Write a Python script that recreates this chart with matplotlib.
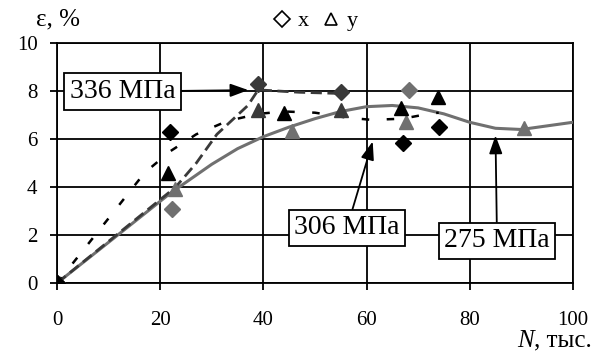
import matplotlib
matplotlib.use("Agg")
import matplotlib.pyplot as plt
from matplotlib.lines import Line2D

plt.rcParams['font.family'] = ['Liberation Serif', 'DejaVu Serif']

# Cycles N (thousand) and strain, %, for each stress level
# 336 MPa
n336_x = [0, 39, 55]
e336_x = [0, 8.3, 7.95]
n336_y = [0, 39, 55]
e336_y = [0, 7.2, 7.2]
n336_line = [0, 23, 27, 31, 37, 39, 47, 55]
e336_line = [0, 4.0, 5.0, 6.2, 7.4, 8.05, 7.95, 7.9]

# 306 MPa
n306_x = [0, 22, 67, 74]
e306_x = [0, 6.3, 5.85, 6.5]
n306_y = [0, 21.6, 44, 66.6, 73.8]
e306_y = [0, 4.6, 7.1, 7.3, 7.75]
n306_line = [0, 5, 10, 17, 22, 27, 33, 39, 44, 50, 56, 61, 67, 72, 74]
e306_line = [0, 1.35, 2.7, 4.6, 5.5, 6.2, 6.75, 7.05, 7.15, 7.1, 6.9, 6.8, 6.85, 7.05, 7.1]

# 275 MPa
n275_x = [0, 22.3, 68.2]
e275_x = [0, 3.1, 8.05]
n275_y = [0, 22.9, 45.5, 67.6, 90.5]
e275_y = [0, 3.9, 6.35, 6.7, 6.45]
n275_line = [0, 10, 22, 30, 35, 40, 45, 50, 55, 60, 65, 70, 75, 80, 85, 90, 95, 100]
e275_line = [0, 1.7, 3.75, 4.95, 5.6, 6.1, 6.5, 6.85, 7.15, 7.35, 7.4, 7.3, 7.05, 6.7, 6.45, 6.4, 6.55, 6.7]

stress_labels = ["336 МПа", "306 МПа", "275 МПа"]
x_ticks = [0, 20, 40, 60, 80, 100]
y_ticks = [0, 2, 4, 6, 8, 10]

c_dark = "#3a3a3a"
c_black = "#000000"
c_gray = "#707070"

fig = plt.figure(figsize=(5.95, 3.53), dpi=100)
ax = fig.add_axes([0.0958, 0.198, 0.867, 0.680])

ax.set_xlim(0, 100)
ax.set_ylim(0, 10)
ax.set_xticks(x_ticks)
ax.set_yticks(y_ticks)
ax.grid(True, color="black", lw=1.3)
ax.set_axisbelow(True)
for s in ax.spines.values():
    s.set_color("black")
    s.set_linewidth(1.3)
ax.tick_params(direction="out", length=5, width=1.3, labelsize=15)
ax.tick_params(axis="x", pad=15)
ax.tick_params(axis="y", pad=9)

# trend lines
ax.plot(n275_line, e275_line, color=c_gray, lw=2.2, solid_capstyle="round", zorder=3)
ax.plot(n336_line, e336_line, color=c_dark, lw=2.0, dashes=(4, 2), zorder=3)
ax.plot(n306_line, e306_line, color=c_black, lw=1.8, dashes=(3, 7), zorder=3)

# measured points: diamonds for x, triangles for y
ms_d = 8.5
ms_t = 9.5
ax.plot(n275_x, e275_x, "D", color=c_gray, ms=ms_d, zorder=4)
ax.plot(n275_y, e275_y, "^", color=c_gray, ms=ms_t, zorder=4)
ax.plot(n336_x, e336_x, "D", color=c_dark, ms=ms_d, zorder=4)
ax.plot(n336_y, e336_y, "^", color=c_dark, ms=ms_t, zorder=4)
ax.plot(n306_x, e306_x, "D", color=c_black, ms=ms_d, zorder=4)
ax.plot(n306_y, e306_y, "^", color=c_black, ms=ms_t, zorder=4)

# stress level callouts
box = dict(boxstyle="square,pad=0.2", fc="white", ec="black", lw=1.3)
arrow = dict(arrowstyle="-|>,head_length=1.1,head_width=0.4", color="black", lw=1.3,
             shrinkA=0, shrinkB=0, mutation_scale=10)
ax.annotate(stress_labels[0], xy=(37.1, 8.04), xytext=(12.7, 7.98), fontsize=20,
            ha="center", va="center", bbox=box, arrowprops=arrow, zorder=6)
ax.annotate(stress_labels[1], xy=(61.2, 5.9), xytext=(56.2, 2.3), fontsize=20,
            ha="center", va="center", bbox=box, arrowprops=arrow, zorder=6)
ax.annotate(stress_labels[2], xy=(85.0, 6.15), xytext=(85.3, 1.77), fontsize=20,
            ha="center", va="center", bbox=box, arrowprops=arrow, zorder=6)

# axis captions
fig.text(0.060, 0.945, "ε, %", fontsize=18, ha="left", va="center")
t_units = fig.text(0.995, 0.035, ", тыс.", fontsize=18, ha="right", va="center")
fig.canvas.draw()
bb = t_units.get_window_extent()
fig.text(bb.x0 / fig.bbox.width, 0.035, "N", fontsize=18, style="italic",
         ha="right", va="center")

# marker key
handles = [Line2D([], [], ls="none", marker="D", mfc="white", mec="black", ms=8, mew=1.2),
           Line2D([], [], ls="none", marker="^", mfc="white", mec="black", ms=9, mew=1.2)]
fig.legend(handles, ["x", "y"], loc="center", bbox_to_anchor=(0.53, 0.94), ncol=2,
           frameon=False, fontsize=16, handlelength=0.8, handletextpad=0.3,
           columnspacing=0.6, borderpad=0.1)

fig.savefig("out.png", dpi=100)
